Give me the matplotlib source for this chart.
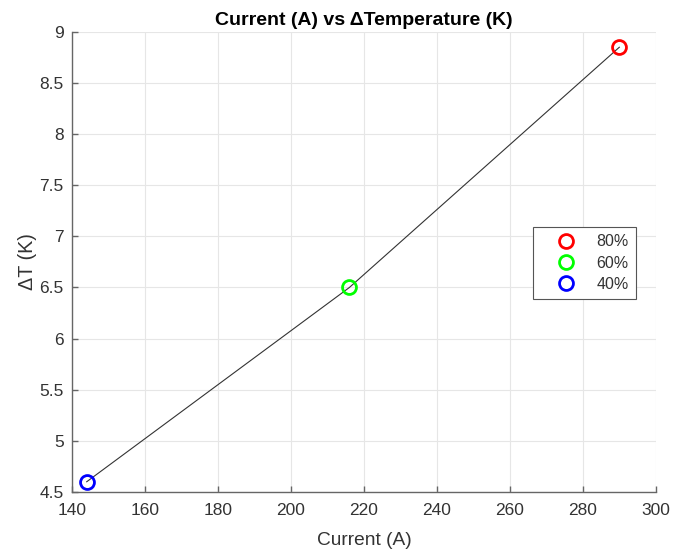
import matplotlib
matplotlib.use("Agg")
import matplotlib.pyplot as plt

plt.rcParams['font.family'] = ['Liberation Sans', 'DejaVu Sans']

current = [144, 216, 290]
delta_t = [4.6, 6.5, 8.85]
labels = ['40%', '60%', '80%']
colors = ['#0000ff', '#00ff00', '#ff0000']

fig = plt.figure(figsize=(6.74, 5.5), dpi=100)
ax = fig.add_axes([0.107, 0.1055, 0.866, 0.8365])

ax.plot(current, delta_t, color='#333333', lw=0.8, zorder=2)
handles = {}
for x, y, lab, c in zip(current, delta_t, labels, colors):
    h, = ax.plot([x], [y], 'o', ms=10, mfc='none', mec=c, mew=2, label=lab, zorder=3)
    handles[lab] = h

ax.set_xlim(140, 300)
ax.set_ylim(4.5, 9)
ax.set_xticks(range(140, 301, 20))
ax.set_yticks([4.5, 5, 5.5, 6, 6.5, 7, 7.5, 8, 8.5, 9])
ax.set_yticklabels(['4.5', '5', '5.5', '6', '6.5', '7', '7.5', '8', '8.5', '9'])
ax.grid(True, color='#e6e6e6', lw=0.8)
ax.set_axisbelow(True)
for s in ['top', 'right']:
    ax.spines[s].set_visible(False)
for s in ['left', 'bottom']:
    ax.spines[s].set_color('#666666')
    ax.spines[s].set_linewidth(1.0)
ax.tick_params(direction='in', colors='#666666', labelcolor='#333333',
               labelsize=12.5, length=4, width=1.0)
ax.tick_params(axis='x', pad=8)
ax.tick_params(axis='y', pad=6)

ax.set_xlabel('Current (A)', fontsize=13.8, color='#333333', labelpad=10)
ax.set_ylabel('ΔT (K)', fontsize=14.2, color='#333333', labelpad=2)
ax.set_title('Current (A) vs ΔTemperature (K)', fontsize=14, fontweight='bold',
             color='black', pad=5)

leg = ax.legend([handles['80%'], handles['60%'], handles['40%']], ['80%', '60%', '40%'],
                loc='upper left', bbox_to_anchor=(0.789, 0.576), borderaxespad=0,
                fontsize=11.5, frameon=True, fancybox=False, edgecolor='#555555',
                framealpha=1, handlelength=3.3, handletextpad=0.25,
                borderpad=0.45, labelspacing=0.4)
leg.get_frame().set_linewidth(0.8)
for t in leg.get_texts():
    t.set_color('#333333')

fig.savefig('out.png', dpi=100, facecolor='white')
